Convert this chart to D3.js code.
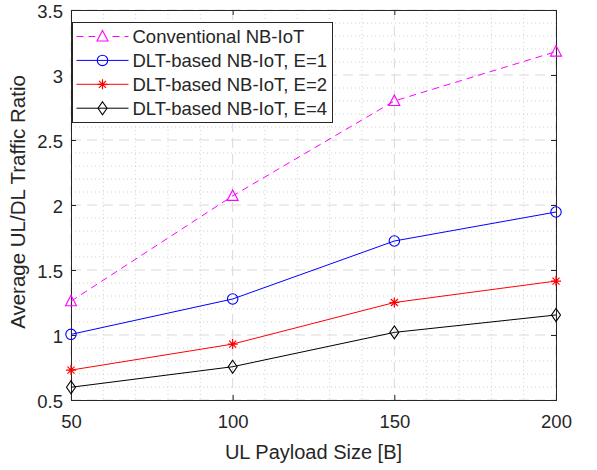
<!DOCTYPE html>
<html>
<head>
<meta charset="utf-8">
<script src="https://cdn.jsdelivr.net/npm/d3@7"></script>
<style>
  body { margin: 0; background: #fff; }
  text { font-family: "Liberation Sans", Arial, sans-serif; fill: #262626; }
</style>
</head>
<body>
<div id="chart"></div>
<script>
// chart data
const payload = [50, 100, 150, 200];
const conventional = [1.26, 2.07, 2.80, 3.18];
const dltE1 = [1.005, 1.277, 1.723, 1.946];
const dltE2 = [0.73, 0.93, 1.25, 1.415];
const dltE4 = [0.598, 0.756, 1.02, 1.154];
const xTicks = [50, 100, 150, 200];
const yTicks = [0.5, 1, 1.5, 2, 2.5, 3, 3.5];

const series = [
  { name: "Conventional NB-IoT", values: conventional, color: "#ff00ff", dash: "7,5", marker: "triangle" },
  { name: "DLT-based NB-IoT, E=1", values: dltE1, color: "#0000ff", dash: null, marker: "circle" },
  { name: "DLT-based NB-IoT, E=2", values: dltE2, color: "#ff0000", dash: null, marker: "star" },
  { name: "DLT-based NB-IoT, E=4", values: dltE4, color: "#000000", dash: null, marker: "diamond" }
];

const svgWidth = 597;
const svgHeight = 470;
const margin = { top: 10, right: 41, bottom: 70, left: 71 };
const width = svgWidth - margin.left - margin.right;
const height = svgHeight - margin.top - margin.bottom;

const svg = d3.select("#chart")
  .append("svg")
  .attr("width", svgWidth)
  .attr("height", svgHeight);

const chartGroup = svg.append("g")
  .attr("transform", `translate(${margin.left}, ${margin.top})`);

const xScale = d3.scaleLinear().domain([50, 200]).range([0, width]);
const yScale = d3.scaleLinear().domain([0.5, 3.5]).range([height, 0]);

// minor grid (dotted)
const xMinor = d3.range(50, 201, 10).filter(v => v % 50 !== 0);
const yMinor = d3.range(5, 36, 1).map(v => v / 10).filter(v => Math.round(v * 10) % 5 !== 0);

chartGroup.selectAll(".xminor")
  .data(xMinor)
  .enter()
  .append("line")
  .attr("x1", d => xScale(d)).attr("x2", d => xScale(d))
  .attr("y1", 0).attr("y2", height)
  .attr("stroke", "#d0d0d0")
  .attr("stroke-width", 1)
  .attr("stroke-dasharray", "1,3");

chartGroup.selectAll(".yminor")
  .data(yMinor)
  .enter()
  .append("line")
  .attr("x1", 0).attr("x2", width)
  .attr("y1", d => yScale(d)).attr("y2", d => yScale(d))
  .attr("stroke", "#d0d0d0")
  .attr("stroke-width", 1)
  .attr("stroke-dasharray", "1,3");

// major grid (dashed)
chartGroup.selectAll(".xmajor")
  .data(xTicks)
  .enter()
  .append("line")
  .attr("x1", d => xScale(d)).attr("x2", d => xScale(d))
  .attr("y1", 0).attr("y2", height)
  .attr("stroke", "#d9d9d9")
  .attr("stroke-width", 1)
  .attr("stroke-dasharray", "10,6");

chartGroup.selectAll(".ymajor")
  .data(yTicks)
  .enter()
  .append("line")
  .attr("x1", 0).attr("x2", width)
  .attr("y1", d => yScale(d)).attr("y2", d => yScale(d))
  .attr("stroke", "#d9d9d9")
  .attr("stroke-width", 1)
  .attr("stroke-dasharray", "10,6");

// axes with inward ticks
const bottomAxis = d3.axisBottom(xScale).tickValues(xTicks).tickSize(-5).tickPadding(15);
const leftAxis = d3.axisLeft(yScale).tickValues(yTicks).tickSize(-5).tickPadding(8).tickFormat(d3.format("~g"));
const topAxis = d3.axisTop(xScale).tickValues(xTicks).tickSize(-5).tickFormat("");
const rightAxis = d3.axisRight(yScale).tickValues(yTicks).tickSize(-5).tickFormat("");

function styleAxis(g) {
  g.select(".domain").attr("stroke", "#262626");
  g.selectAll(".tick line").attr("stroke", "#262626");
  g.selectAll(".tick text").attr("font-size", "18.5px").attr("fill", "#262626")
    .style("font-family", "'Liberation Sans', Arial, sans-serif");
}

chartGroup.append("g").attr("transform", `translate(0, ${height})`).call(bottomAxis).call(styleAxis);
chartGroup.append("g").call(leftAxis).call(styleAxis)
  .selectAll(".tick text").attr("dy", "0.42em");
chartGroup.append("g").call(topAxis).call(styleAxis);
chartGroup.append("g").attr("transform", `translate(${width}, 0)`).call(rightAxis).call(styleAxis);

// lines
const line = d3.line()
  .x((d, i) => xScale(payload[i]))
  .y(d => yScale(d));

function drawMarker(g, type, color) {
  if (type === "triangle") {
    g.append("path").attr("d", "M0,-6L5.5,4.5L-5.5,4.5Z")
      .attr("fill", "none").attr("stroke", color).attr("stroke-width", 1.1);
  } else if (type === "circle") {
    g.append("circle").attr("r", 5.2)
      .attr("fill", "none").attr("stroke", color).attr("stroke-width", 1.1);
  } else if (type === "star") {
    g.append("path").attr("d", "M-5,0L5,0M0,-5L0,5M-3.5,-3.5L3.5,3.5M-3.5,3.5L3.5,-3.5")
      .attr("stroke", color).attr("stroke-width", 1.2);
  } else if (type === "diamond") {
    g.append("path").attr("d", "M0,-6.5L4.5,0L0,6.5L-4.5,0Z")
      .attr("fill", "none").attr("stroke", color).attr("stroke-width", 1.1);
  }
}

series.forEach(s => {
  chartGroup.append("path")
    .datum(s.values)
    .attr("d", line)
    .attr("fill", "none")
    .attr("stroke", s.color)
    .attr("stroke-width", 1)
    .attr("stroke-dasharray", s.dash);

  s.values.forEach((v, i) => {
    const m = chartGroup.append("g")
      .attr("transform", `translate(${xScale(payload[i])}, ${yScale(v)})`);
    drawMarker(m, s.marker, s.color);
  });
});

// legend
const legend = chartGroup.append("g")
  .attr("transform", "translate(1.5, 12.5)");

legend.append("rect")
  .attr("width", 260)
  .attr("height", 100)
  .attr("fill", "#fff")
  .attr("stroke", "#262626")
  .attr("stroke-width", 1);

series.forEach((s, i) => {
  const row = legend.append("g").attr("transform", `translate(0, ${14 + i * 23.9})`);
  row.append("line")
    .attr("x1", 4).attr("x2", 56)
    .attr("stroke", s.color)
    .attr("stroke-width", 1)
    .attr("stroke-dasharray", s.dash);
  const m = row.append("g").attr("transform", "translate(30, 0)");
  m.append("rect").attr("x", -7).attr("y", -7).attr("width", 14).attr("height", 14)
    .attr("fill", s.dash ? "#fff" : "none");
  drawMarker(m, s.marker, s.color);
  row.append("text")
    .attr("x", 60)
    .attr("y", 6.5)
    .attr("font-size", "18.5px")
    .text(s.name);
});

// axis labels
chartGroup.append("text")
  .attr("x", width / 2)
  .attr("y", height + 59)
  .attr("text-anchor", "middle")
  .attr("font-size", "20px")
  .text("UL Payload Size [B]");

chartGroup.append("text")
  .attr("transform", `translate(-46, ${height / 2 - 3}) rotate(-90)`)
  .attr("text-anchor", "middle")
  .attr("font-size", "20.5px")
  .text("Average UL/DL Traffic Ratio");
</script>
</body>
</html>
